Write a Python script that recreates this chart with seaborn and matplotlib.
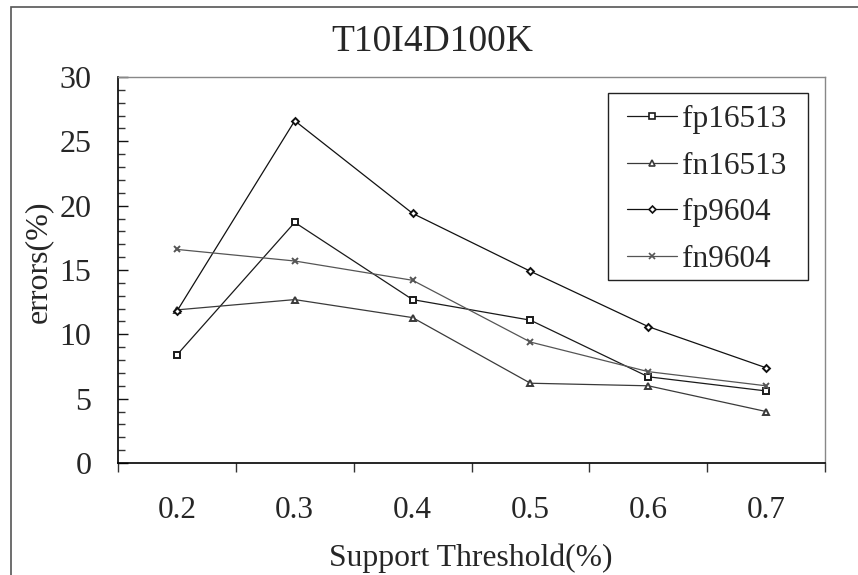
import matplotlib
matplotlib.use("Agg")
import matplotlib.pyplot as plt
import seaborn as sns
import pandas as pd
from matplotlib.patches import Rectangle
from matplotlib.ticker import MultipleLocator, FixedLocator

categories = ["0.2", "0.3", "0.4", "0.5", "0.6", "0.7"]
fp16513 = [8.4, 18.7, 12.7, 11.1, 6.7, 5.6]
fn16513 = [11.9, 12.7, 11.3, 6.2, 6.0, 4.0]
fp9604 = [11.8, 26.6, 19.4, 14.9, 10.6, 7.4]
fn9604 = [16.6, 15.7, 14.2, 9.4, 7.1, 6.0]
series_names = ["fp16513", "fn16513", "fp9604", "fn9604"]

rows = []
for name, vals in zip(series_names, [fp16513, fn16513, fp9604, fn9604]):
    for c, v in zip(categories, vals):
        rows.append({"threshold": c, "errors": v, "series": name})
df = pd.DataFrame(rows)

sns.set_style("white")
plt.rcParams["font.family"] = ["Liberation Serif", "DejaVu Serif"]

fig = plt.figure(figsize=(8.58, 5.75), dpi=100)
ax = fig.add_axes([118 / 858, 1 - 463 / 575, (825 - 118) / 858, (463 - 77) / 575])

colors = ["#1a1a1a", "#3a3a3a", "#111111", "#555555"]
markers = ["s", "^", "D", "x"]
sns.pointplot(data=df, x="threshold", y="errors", hue="series", order=categories,
              hue_order=series_names, palette=colors, markers=markers,
              linestyles=["-"] * 4, errorbar=None, markersize=4.5, linewidth=0.9,
              markerfacecolor="white", markeredgewidth=1.4, ax=ax, legend=False)

for line, m in zip(ax.lines, markers):
    if m == "D":
        line.set_markersize(3.5)

ax.set_xlim(-0.5, len(categories) - 0.5)
ax.set_ylim(0, 30)
ax.yaxis.set_major_locator(MultipleLocator(5))
ax.yaxis.set_minor_locator(MultipleLocator(1))
ax.xaxis.set_minor_locator(FixedLocator([i - 0.5 for i in range(len(categories) + 1)]))

ax.tick_params(axis="y", which="major", direction="in", length=7, width=1, color="#111",
               labelsize=23, pad=19, left=True)
ax.tick_params(axis="y", which="minor", direction="in", length=5, width=1, color="#333", left=True)
ax.tick_params(axis="x", which="major", length=0, labelsize=22.5, pad=24)
ax.tick_params(axis="x", which="minor", direction="out", length=6.5, width=1, color="#333", bottom=True)

for s in ["left", "bottom"]:
    ax.spines[s].set_color("black")
    ax.spines[s].set_linewidth(1.2)
for s in ["top", "right"]:
    ax.spines[s].set_visible(True)
    ax.spines[s].set_color("#888888")
    ax.spines[s].set_linewidth(1.0)

ax.set_xlabel("")
ax.set_ylabel("")
fig.text(471 / 858, 1 - 558 / 575, "Support Threshold(%)", fontsize=22.8, ha="center", va="center")
fig.text(38 / 858, 1 - 262 / 575, "errors(%)", fontsize=23, ha="center", va="center", rotation=90)
fig.text(432 / 858, 1 - 42 / 575, "T10I4D100K", fontsize=27, ha="center", va="center")

handles = [plt.Line2D([], [], color=c, marker=m, markersize=4 if m != "D" else 3.5,
                      markerfacecolor="white", markeredgewidth=1.2, linewidth=0.9)
           for c, m in zip(colors, markers)]
leg = ax.legend(handles, series_names, loc="upper left", bbox_to_anchor=(627 / 858, 1 - 105 / 575),
                bbox_transform=fig.transFigure, fontsize=22.5, frameon=False,
                handlelength=1.6, handletextpad=0.15, labelspacing=0.56, borderpad=0,
                borderaxespad=0)
fig.patches.append(Rectangle((608 / 858, 1 - 280 / 575), 200 / 858, 187 / 575,
                             transform=fig.transFigure, fill=False, edgecolor="#222", linewidth=1.0,
                             zorder=5))

fig.patches.append(Rectangle((11 / 858, -0.1), 1.2, 1 - 7 / 575 + 0.1, transform=fig.transFigure,
                             fill=False, edgecolor="#555", linewidth=1.2))

fig.savefig("out.png", dpi=100, facecolor="white")
